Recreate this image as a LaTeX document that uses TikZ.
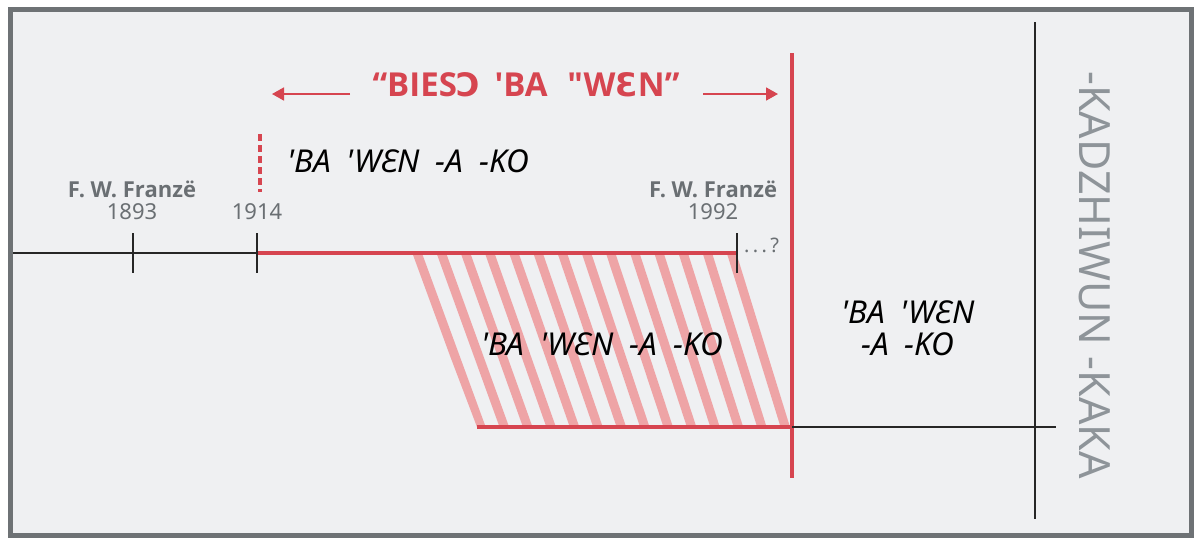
\documentclass[tikz,border=0pt]{standalone}
\usepackage{fontspec}
\newfontfamily\notosans{Noto Sans}
\newfontfamily\opensans{Open Sans}
\newfontfamily\dejavu{DejaVu Sans}
\usetikzlibrary{arrows.meta,positioning}
\definecolor{framegray}{HTML}{6E7275}
\definecolor{paper}{HTML}{EFF0F2}
\definecolor{brick}{HTML}{D64550}
\definecolor{rosy}{HTML}{EEA4A6}
\definecolor{labelgray}{HTML}{6A6F73}
\definecolor{sidegray}{HTML}{8E9499}
\newcommand{\wsp}{\hspace{0.5em}}
\newcommand{\openo}{{\dejavu\bfseries\fontsize{32.3}{38}\selectfont Ɔ}}
\newcommand{\opene}{{\dejavu\bfseries\fontsize{32.3}{38}\selectfont Ɛ}}
\tikzstyle{frame} = [draw=framegray, line width=5pt, fill=paper]
\tikzstyle{redline} = [draw=brick, line width=4pt]
\tikzstyle{blackline} = [draw=black!85, line width=2.5pt]
\tikzstyle{tick} = [draw=black!85, line width=2.2pt]
\tikzstyle{stripe} = [draw=rosy, line width=9pt]
\tikzstyle{pointer} = [draw=brick, line width=1.8pt, -{Triangle[length=12pt,width=13pt]}]
\tikzstyle{title} = [inner sep=0pt, text=brick, font=\opensans\bfseries\fontsize{33}{38}\selectfont]
\tikzstyle{era} = [inner sep=0pt, text=black, font=\notosans\itshape\fontsize{31.5}{34}\selectfont]
\tikzstyle{franz} = [inner sep=0pt, text=labelgray, font=\opensans\bfseries\fontsize{22}{24}\selectfont]
\tikzstyle{year} = [inner sep=0pt, text=labelgray, font=\notosans\fontsize{22}{24}\selectfont]
\tikzstyle{side} = [inner sep=0pt, text=sidegray, font=\notosans\fontsize{43}{48}\selectfont]

\begin{document}
\begin{tikzpicture}[x=1pt,y=-1pt]

\useasboundingbox (0,0) rectangle (1200,547);
\draw[frame] (10.5,9.5) rectangle (1191.5,535.5);

\coordinate (lft) at (13,253);
\coordinate (t1893) at (133,253);
\coordinate (t1914) at (257,253);
\coordinate (t1992) at (737,253);
\coordinate (dtop) at (260,134);
\coordinate (dbot) at (260,192);
\coordinate (rtop) at (792,53);
\coordinate (rbot) at (792,478);
\coordinate (hleft) at (477,427);
\coordinate (hright) at (792,427);
\coordinate (rgt) at (1056,427);
\coordinate (vtop) at (1035,22);
\coordinate (vbot) at (1035,519);
\coordinate (la) at (350,94);
\coordinate (lb) at (272,94);
\coordinate (ra) at (703,94);
\coordinate (rb) at (778,94);

\begin{scope}
\clip (411,253) -- (737,253) -- (792,427) -- (477,427) -- cycle;
\foreach \i in {0,...,13}
  \draw[stripe] ({416+\i*24.2},250) -- ({482+\i*23.4},430);
\end{scope}

\node[title, anchor=base] (head) at (526,96) {“BIES\openo\hspace{0.42em}'BA\hspace{0.6em}"W\opene N”};
\node[era, anchor=base west] (era1) at (287,172) {'BA\wsp'WƐN\wsp-A\wsp-KO};
\node[era, anchor=base] (era2) at (602,355) {'BA\wsp'WƐN\wsp-A\wsp-KO};
\node[era, anchor=base, align=center] (era3) at (908,355) {'BA\wsp'WƐN\\[-2pt]-A\wsp-KO};

\node[year, anchor=base] (y1893) at (132,219) {1893};
\node[year, anchor=base] (y1914) at (257,219) {1914};
\node[year, anchor=base] (y1992) at (713,219) {1992};
\node[franz] (f1893) [above=5pt of y1893] {F. W. Franzë};
\node[franz] (f1992) [above=5pt of y1992] {F. W. Franzë};
\node[year, anchor=base west, font=\notosans\fontsize{20}{24}\selectfont] (more) at (744,252) {.\,.\,.\,?};

\node[side, rotate=-90] (axis) at (1095,275) {-KADZHIWUN -KAKA};

\path
  (lft) edge[blackline] (t1914)
  (t1914) edge[redline] (t1992)
  (dtop) edge[redline, dash pattern=on 7pt off 4pt] (dbot)
  (rtop) edge[redline] (rbot)
  (hleft) edge[redline] (hright)
  (hright) edge[blackline] (rgt)
  (vtop) edge[blackline] (vbot)
  (la) edge[pointer] (lb)
  (ra) edge[pointer] (rb);

\foreach \t in {t1893,t1914,t1992}
  \draw[tick] ([yshift=20pt]\t) -- ([yshift=-20pt]\t);

\end{tikzpicture}
\end{document}
